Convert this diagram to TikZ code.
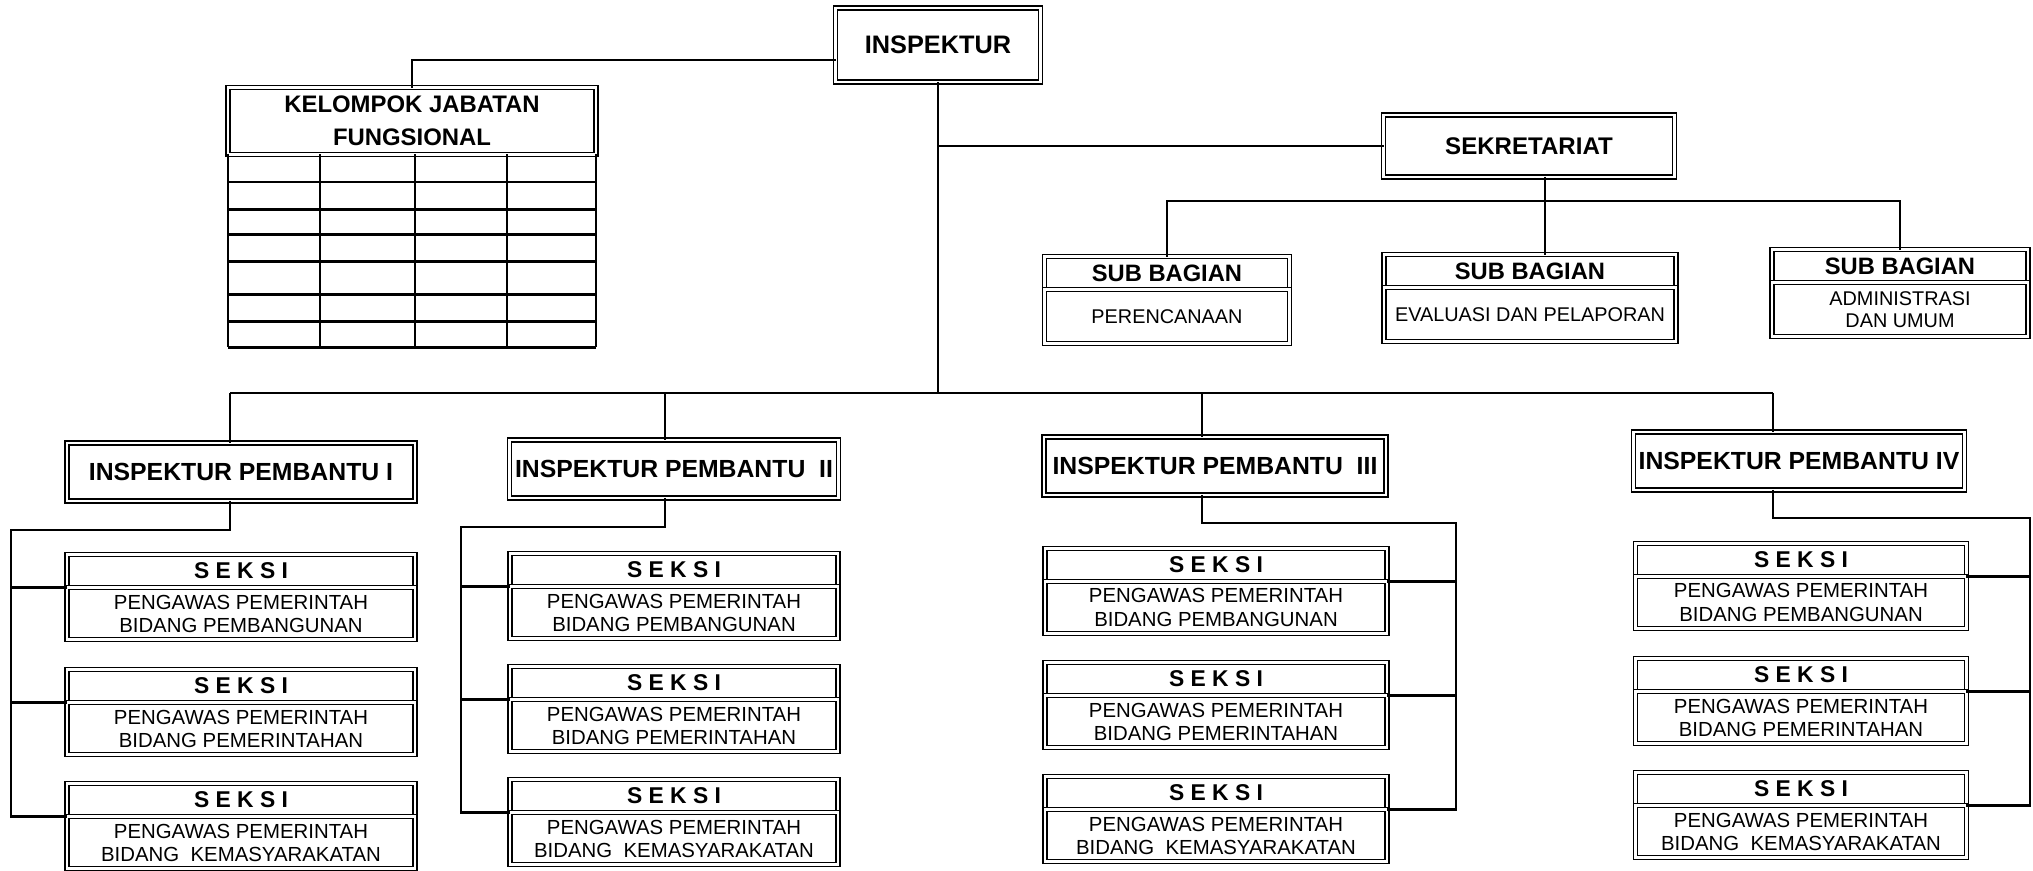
\documentclass[tikz,border=0pt]{standalone}
\usepackage{fontspec}
\setmainfont{Liberation Sans}
\usepackage{tikz}
\usetikzlibrary{positioning}

\begin{document}
\begin{tikzpicture}[x=0.02cm,y=-0.02cm,
  dbox/.style={draw,double,double distance=1.2pt,line width=0.95pt,outer sep=0pt,inner sep=0pt,align=center},
  topbox/.style={dbox,minimum width=41mm,minimum height=14.8mm,font=\fontsize{14.4}{17}\selectfont\bfseries},
  kjfbox/.style={dbox,minimum width=73.6mm,minimum height=13.4mm,font=\fontsize{13.6}{19}\selectfont\bfseries},
  sekbox/.style={dbox,minimum width=58.2mm,minimum height=12.4mm,font=\fontsize{13.7}{16}\selectfont\bfseries},
  sbhead/.style={dbox,minimum height=6.6mm,font=\fontsize{13.5}{16}\selectfont\bfseries},
  sbbody/.style={dbox,minimum height=10.8mm,font=\fontsize{11.3}{12.6}\selectfont},
  ipbox/.style={dbox,minimum height=11.6mm,font=\fontsize{14.1}{17}\selectfont\bfseries},
  skhead/.style={dbox,minimum height=6.6mm,font=\fontsize{13}{15}\selectfont\bfseries},
  skbody/.style={dbox,minimum height=10.4mm,font=\fontsize{11.6}{13.1}\selectfont},
  conn/.style={line width=1.15pt}]
\useasboundingbox (0,0) rectangle (2033,871);
\node[topbox] (insp) at (938,45) {INSPEKTUR};
\node[kjfbox] (kjf) at (412,121) {KELOMPOK JABATAN\\FUNGSIONAL};
\node[sekbox] (sek) at (1529,146) {SEKRETARIAT};
\node[sbhead,minimum width=49mm] (sb1) at (1167,273) {SUB BAGIAN};
\node[sbbody,minimum width=49mm,below=0pt of sb1] (sb1b) {PERENCANAAN};
\node[sbhead,minimum width=58.4mm] (sb2) at (1530,271) {SUB BAGIAN};
\node[sbbody,minimum width=58.4mm,below=0pt of sb2] (sb2b) {EVALUASI DAN PELAPORAN};
\node[sbhead,minimum width=51.2mm] (sb3) at (1900,266) {SUB BAGIAN};
\node[sbbody,minimum width=51.2mm,below=0pt of sb3] (sb3b) {ADMINISTRASI\\DAN UMUM};
\node[ipbox,minimum width=69.6mm] (ip1) at (241,472) {INSPEKTUR PEMBANTU I};
\node[ipbox,minimum width=65.8mm] (ip2) at (674,469) {INSPEKTUR PEMBANTU\ \ II};
\node[ipbox,minimum width=68.4mm] (ip3) at (1215,466) {INSPEKTUR PEMBANTU\ \ III};
\node[ipbox,minimum width=66.2mm] (ip4) at (1799,461) {INSPEKTUR PEMBANTU IV};
\node[skhead,minimum width=69.6mm] (s11) at (241,571) {S E K S I};
\node[skbody,minimum width=69.6mm,below=0pt of s11] (s11b) {PENGAWAS PEMERINTAH\\BIDANG PEMBANGUNAN};
\node[skhead,minimum width=69.6mm] (s12) at (241,686) {S E K S I};
\node[skbody,minimum width=69.6mm,below=0pt of s12] (s12b) {PENGAWAS PEMERINTAH\\BIDANG PEMERINTAHAN};
\node[skhead,minimum width=69.6mm] (s13) at (241,800) {S E K S I};
\node[skbody,minimum width=69.6mm,below=0pt of s13] (s13b) {PENGAWAS PEMERINTAH\\BIDANG\ \ KEMASYARAKATAN};
\node[skhead,minimum width=65.6mm] (s21) at (674,570) {S E K S I};
\node[skbody,minimum width=65.6mm,below=0pt of s21] (s21b) {PENGAWAS PEMERINTAH\\BIDANG PEMBANGUNAN};
\node[skhead,minimum width=65.6mm] (s22) at (674,683) {S E K S I};
\node[skbody,minimum width=65.6mm,below=0pt of s22] (s22b) {PENGAWAS PEMERINTAH\\BIDANG PEMERINTAHAN};
\node[skhead,minimum width=65.6mm] (s23) at (674,796) {S E K S I};
\node[skbody,minimum width=65.6mm,below=0pt of s23] (s23b) {PENGAWAS PEMERINTAH\\BIDANG\ \ KEMASYARAKATAN};
\node[skhead,minimum width=68.4mm] (s31) at (1216,565) {S E K S I};
\node[skbody,minimum width=68.4mm,below=0pt of s31] (s31b) {PENGAWAS PEMERINTAH\\BIDANG PEMBANGUNAN};
\node[skhead,minimum width=68.4mm] (s32) at (1216,679) {S E K S I};
\node[skbody,minimum width=68.4mm,below=0pt of s32] (s32b) {PENGAWAS PEMERINTAH\\BIDANG PEMERINTAHAN};
\node[skhead,minimum width=68.4mm] (s33) at (1216,793) {S E K S I};
\node[skbody,minimum width=68.4mm,below=0pt of s33] (s33b) {PENGAWAS PEMERINTAH\\BIDANG\ \ KEMASYARAKATAN};
\node[skhead,minimum width=66.2mm] (s41) at (1801,560) {S E K S I};
\node[skbody,minimum width=66.2mm,below=0pt of s41] (s41b) {PENGAWAS PEMERINTAH\\BIDANG PEMBANGUNAN};
\node[skhead,minimum width=66.2mm] (s42) at (1801,675) {S E K S I};
\node[skbody,minimum width=66.2mm,below=0pt of s42] (s42b) {PENGAWAS PEMERINTAH\\BIDANG PEMERINTAHAN};
\node[skhead,minimum width=66.2mm] (s43) at (1801,789) {S E K S I};
\node[skbody,minimum width=66.2mm,below=0pt of s43] (s43b) {PENGAWAS PEMERINTAH\\BIDANG\ \ KEMASYARAKATAN};
\draw[conn] ([shift={(0,28)}]kjf.south west) -- ([shift={(0,28)}]kjf.south east);
\draw[conn] ([shift={(0,55)}]kjf.south west) -- ([shift={(0,55)}]kjf.south east);
\draw[conn] ([shift={(0,80)}]kjf.south west) -- ([shift={(0,80)}]kjf.south east);
\draw[conn] ([shift={(0,107)}]kjf.south west) -- ([shift={(0,107)}]kjf.south east);
\draw[conn] ([shift={(0,140)}]kjf.south west) -- ([shift={(0,140)}]kjf.south east);
\draw[conn] ([shift={(0,167)}]kjf.south west) -- ([shift={(0,167)}]kjf.south east);
\draw[conn] ([shift={(0,193)}]kjf.south west) -- ([shift={(0,193)}]kjf.south east);
\draw[conn] (kjf.south west) -- ++(0,193);
\draw[conn] ([shift={(92,0)}]kjf.south west) -- ++(0,193);
\draw[conn] ([shift={(187,0)}]kjf.south west) -- ++(0,193);
\draw[conn] ([shift={(279,0)}]kjf.south west) -- ++(0,193);
\draw[conn] (kjf.south east) -- ++(0,193);
\coordinate (d1) at (230,393);
\coordinate (d2) at (665,393);
\coordinate (d3) at (1202,393);
\coordinate (d4) at (1773,393);
\coordinate (sbus) at (1545,201);
\coordinate (t1) at (11,530);
\coordinate (t2) at (461,527);
\coordinate (t3) at (1456,523);
\coordinate (t4) at (2030,518);
\draw[conn] ([yshift=-3mm]insp.west) -| (kjf.north);
\draw[conn] (insp.south) -- (insp.south |- d1);
\draw[conn] (insp.south |- sek.west) -- (sek.west);
\draw[conn] (sbus |- sek.south) -- (sbus);
\draw[conn] (sb1.north) |- (sbus) -| (sb3.north);
\draw[conn] (sbus) -- (sbus |- sb2.north);
\draw[conn] (d1) -- (d4);
\draw[conn] (d1) -- (d1 |- ip1.north);
\draw[conn] (d2) -- (d2 |- ip2.north);
\draw[conn] (d3) -- (d3 |- ip3.north);
\draw[conn] (d4) -- (d4 |- ip4.north);
\draw[conn] (d1 |- ip1.south) |- (t1) |- (s13.south west);
\draw[conn] (t1 |- s11.south west) -- (s11.south west);
\draw[conn] (t1 |- s12.south west) -- (s12.south west);
\draw[conn] (d2 |- ip2.south) |- (t2) |- (s23.south west);
\draw[conn] (t2 |- s21.south west) -- (s21.south west);
\draw[conn] (t2 |- s22.south west) -- (s22.south west);
\draw[conn] (d3 |- ip3.south) |- (t3) |- (s33.south east);
\draw[conn] (t3 |- s31.south east) -- (s31.south east);
\draw[conn] (t3 |- s32.south east) -- (s32.south east);
\draw[conn] (d4 |- ip4.south) |- (t4) |- (s43.south east);
\draw[conn] (t4 |- s41.south east) -- (s41.south east);
\draw[conn] (t4 |- s42.south east) -- (s42.south east);
\end{tikzpicture}
\end{document}
